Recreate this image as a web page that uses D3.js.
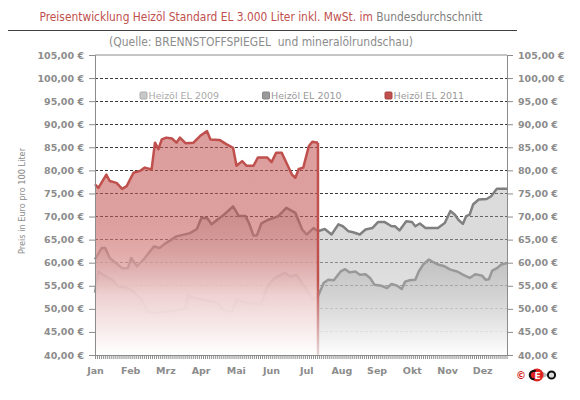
<!DOCTYPE html>
<html lang="de">
<head>
<meta charset="UTF-8">
<title>Preisentwicklung Heizöl Standard EL</title>
<style>
  body { margin: 0; background: #fff; font-family: "DejaVu Sans", sans-serif; }
  svg text { fill: #8c8c8c; }
  .axis .tick text { font-size: 9.5px; font-weight: bold; fill: #8c8c8c; font-family: "DejaVu Sans", sans-serif; }
  .axis path, .axis line { stroke: #8c8c8c; }
  .grid line { stroke: #3a3a3a; stroke-dasharray: 3,2; shape-rendering: crispEdges; }
  .legend text { font-size: 9.5px; }
  .head { font-family: "DejaVu Sans Condensed", "DejaVu Sans", sans-serif; }
</style>
</head>
<body>
<svg id="chart" width="580" height="400"></svg>
<script src="https://cdn.jsdelivr.net/npm/d3@7/dist/d3.min.js"></script>
<script>
// Monate und Preisskala
const months = ["Jan", "Feb", "Mrz", "Apr", "Mai", "Jun", "Jul", "Aug", "Sep", "Okt", "Nov", "Dez"];
const priceTicks = [40, 45, 50, 55, 60, 65, 70, 75, 80, 85, 90, 95, 100, 105];
const seriesNames = ["Heizöl EL 2009", "Heizöl EL 2010", "Heizöl EL 2011"];

// Tag im Jahr / Preis in Euro pro 100 Liter
const days2009 = [0,3,7,15,21,28,32,40,47,53,63,75,80,82,88,96,108,113,121,125,131,143,147,152,159,168,172,178,184,193,197,202,206,211,217,221,225,230,234,239,243,247,253,258,262,267,271,274,278,283,286,290,295,299,303,308,314,320,325,331,336,342,345,348,351,355,359,364];
const price2009 = [53.5,58.1,57.4,56.3,54.8,54.5,54.1,52.3,49.4,49.1,49.4,49.8,50.1,53.0,52.3,52.0,51.4,49.8,49.4,52.0,51.4,51.2,50.9,54.8,56.7,57.8,57.0,57.4,55.2,52.0,52.7,55.6,56.3,56.2,58.1,58.6,57.9,58.1,57.4,57.5,56.7,55.2,55.0,54.5,55.4,55.0,54.3,55.9,56.2,56.3,58.1,59.6,60.7,60.1,59.6,59.3,58.5,58.1,57.4,56.7,57.5,57.2,56.3,56.4,58.3,58.8,59.6,59.9];

const days2010 = [0,6,9,13,24,29,32,37,43,52,57,63,72,84,90,94,99,103,108,113,122,127,133,136,140,143,147,153,158,162,169,177,183,187,193,197,203,209,215,219,224,228,234,239,245,250,256,262,265,269,275,280,283,287,292,296,303,309,314,318,321,325,328,331,334,339,346,350,355,364];
const price2010 = [60.7,63.2,63.2,61.0,58.8,58.8,61.0,59.2,60.7,63.5,63.2,64.3,65.7,66.4,67.3,69.7,69.7,68.3,69.3,70.2,72.2,70.1,70.1,68.6,65.9,65.9,68.5,69.3,69.7,70.1,71.9,70.8,67.2,66.1,67.5,66.8,67.3,66.1,68.3,67.9,66.8,66.6,66.1,67.2,67.5,68.8,68.8,67.9,67.9,67.0,69.0,68.8,67.9,68.5,67.5,67.5,67.5,68.6,71.2,70.4,69.3,68.4,70.1,70.4,72.6,73.7,73.8,74.4,76.0,76.0];

const days2011 = [0,3,10,13,19,24,28,34,40,44,50,53,56,59,63,68,72,75,80,87,93,99,102,110,116,122,125,130,134,140,144,152,156,160,165,169,174,177,180,184,189,192,197];
const price2011 = [77.0,76.2,79.1,77.7,77.3,76.0,76.6,79.5,79.9,80.6,80.2,86.0,84.6,86.7,87.1,86.9,86.0,87.1,85.9,86.0,87.5,88.5,86.7,86.6,85.7,84.9,81.0,82.0,81.0,81.0,82.8,82.8,81.8,83.8,83.8,81.7,79.1,78.4,80.3,80.6,85.3,86.2,86.0];

const svg = d3.select("#chart");
const plotLeft = 95, plotRight = 507, plotTop = 55, plotBottom = 355;
const monthLen = 31.1;

const x = d3.scaleLinear().domain([0, 364]).range([plotLeft, plotRight]);
const y = d3.scaleLinear().domain([40, 105]).range([plotBottom, plotTop]);

const zip = (ds, vs) => ds.map((d, i) => ({ day: d, v: vs[i] }));
const s2009 = zip(days2009, price2009);
const s2010 = zip(days2010, price2010);
const s2011 = zip(days2011, price2011);

// Verläufe
const defs = svg.append("defs");
function grad(id, stops) {
  const g = defs.append("linearGradient").attr("id", id)
    .attr("gradientUnits", "userSpaceOnUse")
    .attr("x1", 0).attr("y1", plotTop).attr("x2", 0).attr("y2", plotBottom);
  stops.forEach(s => g.append("stop").attr("offset", s[0]).attr("stop-color", s[1]).attr("stop-opacity", s[2]));
}
grad("g2009", [[0, "#909090", 0.35], [0.7, "#999999", 0.35], [1, "#ffffff", 0.5]]);
grad("g2010", [[0, "#a0a0a0", 0.4], [0.55, "#a6a6a6", 0.4], [1, "#ffffff", 0.97]]);
grad("g2011", [[0, "#c0504d", 0.55], [0.55, "#c45a57", 0.58], [0.8, "#f0d0d0", 0.93], [1, "#ffffff", 1]]);
grad("edge2011", [[0, "#c0504d", 1], [0.75, "#c0504d", 1], [1, "#e6d6d6", 1]]);

// Raster
svg.append("g").attr("class", "grid")
  .selectAll("line")
  .data(priceTicks.filter(d => d > 40 && d < 105))
  .join("line")
  .attr("x1", plotLeft).attr("x2", plotRight)
  .attr("y1", d => y(d)).attr("y2", d => y(d));

const area = d3.area().x(d => x(d.day)).y0(plotBottom).y1(d => y(d.v));
const line = d3.line().x(d => x(d.day)).y(d => y(d.v));

function drawSeries(data, fillId, color) {
  svg.append("path").datum(data).attr("d", area).attr("fill", `url(#${fillId})`);
  svg.append("path").datum(data).attr("d", line)
    .attr("fill", "none").attr("stroke", color).attr("stroke-width", 2.5)
    .attr("stroke-linejoin", "round");
}
drawSeries(s2010, "g2010", "#808080");
drawSeries(s2009, "g2009", "#999999");
drawSeries(s2011, "g2011", "#c0504d");

// rechte Kante 2011
const last = s2011[s2011.length - 1];
svg.append("line")
  .attr("x1", x(last.day)).attr("x2", x(last.day) + 0.01)
  .attr("y1", y(last.v)).attr("y2", plotBottom)
  .attr("stroke", "url(#edge2011)").attr("stroke-width", 2.5);

// Rahmen oben
svg.append("line").attr("x1", plotLeft).attr("x2", plotRight).attr("y1", plotTop).attr("y2", plotTop)
  .attr("stroke", "#8c8c8c");

// Achsen
const fmt = d => d.toFixed(2).replace(".", ",") + " €";
svg.append("g").attr("class", "axis").attr("transform", `translate(${plotLeft},0)`)
  .call(d3.axisLeft(y).tickValues(priceTicks).tickSize(6).tickPadding(5).tickFormat(fmt));
svg.append("g").attr("class", "axis").attr("transform", `translate(${plotRight},0)`)
  .call(d3.axisRight(y).tickValues(priceTicks).tickSize(6).tickPadding(5).tickFormat(fmt));

svg.append("g").attr("class", "axis").attr("transform", `translate(0,${plotBottom})`)
  .call(d3.axisBottom(x).tickValues(d3.range(0, 364, 1.8)).tickSize(4).tickSizeOuter(0).tickFormat(""));
svg.append("g").attr("class", "axis").attr("transform", `translate(0,${plotBottom})`)
  .call(d3.axisBottom(x).tickValues(months.map((m, i) => i * monthLen)).tickSize(0).tickPadding(12)
    .tickFormat((d, i) => months[i]))
  .call(g => g.select(".domain").remove());

// Achsentitel
svg.append("text")
  .attr("transform", "translate(25,201) rotate(-90)")
  .attr("text-anchor", "middle")
  .attr("font-size", 8)
  .attr("textLength", 106).attr("lengthAdjust", "spacingAndGlyphs")
  .text("Preis in Euro pro 100 Liter");

// Text auf Breite bringen über die Schriftgröße
function fitText(sel, width, base) {
  sel.attr("font-size", base);
  const w = sel.node().getComputedTextLength();
  sel.attr("font-size", (base * width / w).toFixed(2));
  return sel;
}

// Titel
const title = svg.append("text").attr("class", "head")
  .attr("x", 261).attr("y", 21).attr("text-anchor", "middle")
  .style("white-space", "pre");
title.append("tspan").style("fill", "#c0504d").text("Preisentwicklung Heizöl Standard EL 3.000 Liter inkl. MwSt. im ");
title.append("tspan").style("fill", "#7f7f7f").text("Bundesdurchschnitt");
fitText(title, 443, 11.5);

svg.append("line").attr("x1", 8).attr("x2", 517).attr("y1", 30.5).attr("y2", 30.5)
  .attr("stroke", "#404040");

fitText(svg.append("text").attr("class", "head")
  .attr("x", 261).attr("y", 46).attr("text-anchor", "middle")
  .style("fill", "#8c8c8c").style("white-space", "pre")
  .text("(Quelle: BRENNSTOFFSPIEGEL  und mineralölrundschau)"), 304, 11.5);

// Legende
const legendColors = ["#c8c8c8", "#9a9a9a", "#c0504d"];
const legendText = ["#aaaaaa", "#999999", "#999999"];
const legend = svg.append("g").attr("class", "legend")
  .selectAll("g").data(seriesNames).join("g")
  .attr("transform", (d, i) => `translate(${140 + i * 122.5},92)`);
legend.append("rect").attr("width", 7).attr("height", 7).attr("rx", 1)
  .attr("fill", (d, i) => legendColors[i]).attr("stroke", (d, i) => d3.color(legendColors[i]).darker(0.4));
legend.append("text").attr("x", 8.5).attr("y", 7.3)
  .style("fill", (d, i) => legendText[i]).text(d => d);

// Logo
const logo = svg.append("g").attr("transform", "translate(0,375)");
logo.append("text").attr("x", 516).attr("y", 3.8).attr("font-size", 10).attr("font-weight", "bold")
  .style("fill", "#d42020").text("©");
logo.append("path").attr("d", "M543,-3 L549,0 L543,3 Z").attr("fill", "#bbb");
logo.append("circle").attr("cx", 537).attr("cy", 0).attr("r", 6.5).attr("fill", "#e02424");
logo.append("circle").attr("cx", 534).attr("cy", 0).attr("r", 4.2).attr("fill", "none")
  .attr("stroke", "#111").attr("stroke-width", 2.2).attr("stroke-dasharray", "15,12").attr("stroke-dashoffset", -6);
logo.append("text").attr("x", 537.5).attr("y", 3.5).attr("text-anchor", "middle").attr("font-size", 9)
  .attr("font-weight", "bold").style("fill", "#fff").text("E");
logo.append("circle").attr("cx", 551.5).attr("cy", 0).attr("r", 3.6).attr("fill", "#ddd")
  .attr("stroke", "#111").attr("stroke-width", 2);
</script>
</body>
</html>
